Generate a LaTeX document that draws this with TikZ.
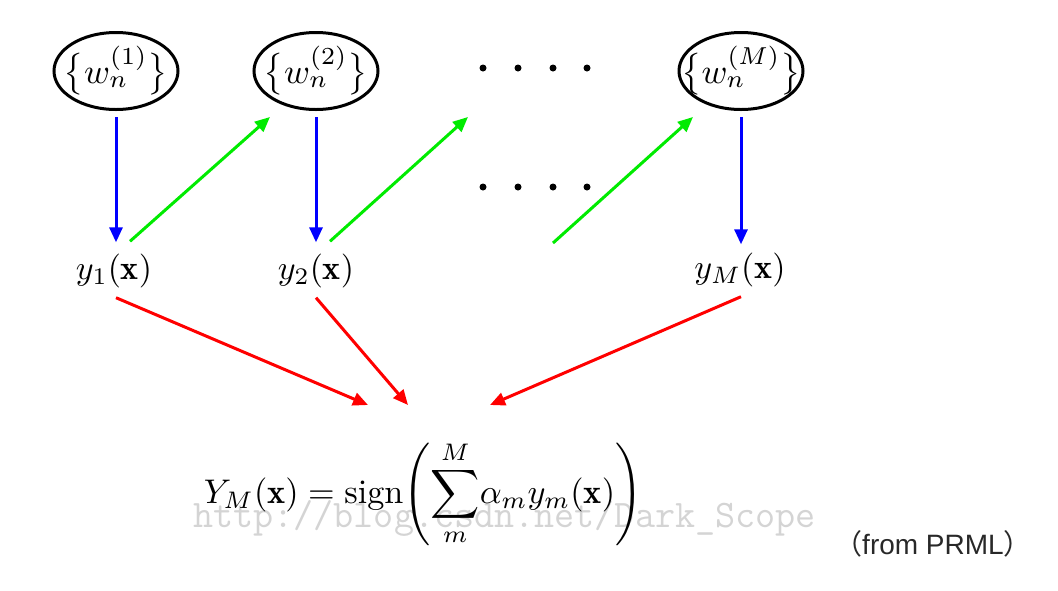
\documentclass[tikz,border=0pt]{standalone}
\usepackage{graphicx}
\usepackage{fontspec}
\newfontfamily\cjkfont{Noto Sans CJK SC}
\newfontfamily\capfont{Liberation Sans}
\usetikzlibrary{shapes.geometric,arrows.meta,calc}
\definecolor{wmgray}{RGB}{212,212,212}
\definecolor{capgray}{RGB}{40,40,40}
\definecolor{bblue}{RGB}{0,0,255}
\definecolor{ggreen}{RGB}{0,235,0}
\definecolor{rred}{RGB}{255,0,0}
\newcommand{\mbigtext}[2]{\scalebox{#1}{#2}}
\begin{document}
\begin{tikzpicture}[x=1pt,y=-1pt,
  wnode/.style={ellipse,draw,line width=3pt,minimum width=124pt,minimum height=77pt,inner sep=0pt},
  ylab/.style={inner sep=0pt,anchor=base},
  dotn/.style={circle,fill,inner sep=0pt,minimum size=7pt},
  arr/.style={line width=3pt,-{Triangle[length=15pt,width=13pt]}},
  barr/.style={arr,draw=bblue,fill=bblue},
  garr/.style={arr,draw=ggreen,fill=ggreen},
  rarr/.style={arr,draw=rred,fill=rred}]
\useasboundingbox (0,0) rectangle (1058,590);

% parameter nodes
\node[wnode] (w1) at (116,71) {\makebox[0pt]{\mbigtext{3.5}{$\bigl\{w_n^{(1)}\bigr\}$}}};
\node[wnode] (w2) at (316,71) {\makebox[0pt]{\mbigtext{3.5}{$\bigl\{w_n^{(2)}\bigr\}$}}};
\node[wnode] (wM) at (741,71) {\makebox[0pt]{\mbigtext{3.5}{$\bigl\{w_n^{(M)}\bigr\}$}}};

% dots
\node[dotn] (d1) at (483,68) {};
\node[dotn] (d2) at (518,68) {};
\node[dotn] (d3) at (553,68) {};
\node[dotn] (d4) at (587,68) {};
\node[dotn] (e1) at (483,187) {};
\node[dotn] (e2) at (518,187) {};
\node[dotn] (e3) at (553,187) {};
\node[dotn] (e4) at (587,187) {};

% classifiers
\node[ylab] (y1) at (114,279) {\mbigtext{3.4}{$y_1(\mathbf{x})$}};
\node[ylab] (y2) at (316,279) {\mbigtext{3.4}{$y_2(\mathbf{x})$}};
\node[ylab] (yM) at (740,278) {\mbigtext{3.4}{$y_M(\mathbf{x})$}};

% watermark
\node[anchor=base west,inner sep=0pt,text=wmgray,font=\ttfamily\fontsize{39}{46}\selectfont] (wm) at (193,527) {http://blog.csdn.net/Dark\_Scope};

% combined
\node[inner sep=0pt,anchor=base] (F) at (423,503)
  {\mbigtext{3.42}{$\displaystyle Y_M(\mathbf{x}) = \mathrm{sign}\!\left(\sum_{m}^{M}\!\alpha_m y_m(\mathbf{x})\right)$}};

\node[anchor=base,inner sep=0pt,text=capgray,font=\capfont\fontsize{28}{32}\selectfont] (src) at (933,554)
  {{\cjkfont （}from PRML{\cjkfont ）}};

% free ends
\coordinate (g2e) at (468,117);
\coordinate (g3s) at (553,243);
\coordinate (r1) at (368,405);
\coordinate (r2) at (408,405);
\coordinate (r3) at (490,405);

% blue arrows
\draw[barr] ($(w1.south)+(0,6)$) -- ($(w1.south |- y1.north)+(0,-11)$);
\draw[barr] ($(w2.south)+(0,6)$) -- ($(w2.south |- y2.north)+(0,-11)$);
\draw[barr] ($(wM.south)+(0,6)$) -- ($(wM.south |- yM.north)+(0,-8)$);

% green arrows
\draw[garr] ($(y1.north)+(16,-12)$) -- ($(w2.center)+(-46,46)$);
\draw[garr] ($(y2.north)+(14,-12)$) -- (g2e);
\draw[garr] (g3s) -- ($(wM.center)+(-48,46)$);

% red arrows
\draw[rarr] ($(y1.south)+(2,10)$) -- (r1);
\draw[rarr] ($(y2.south)+(0,10)$) -- (r2);
\draw[rarr] ($(yM.south)+(1,10)$) -- (r3);
\end{tikzpicture}
\end{document}
